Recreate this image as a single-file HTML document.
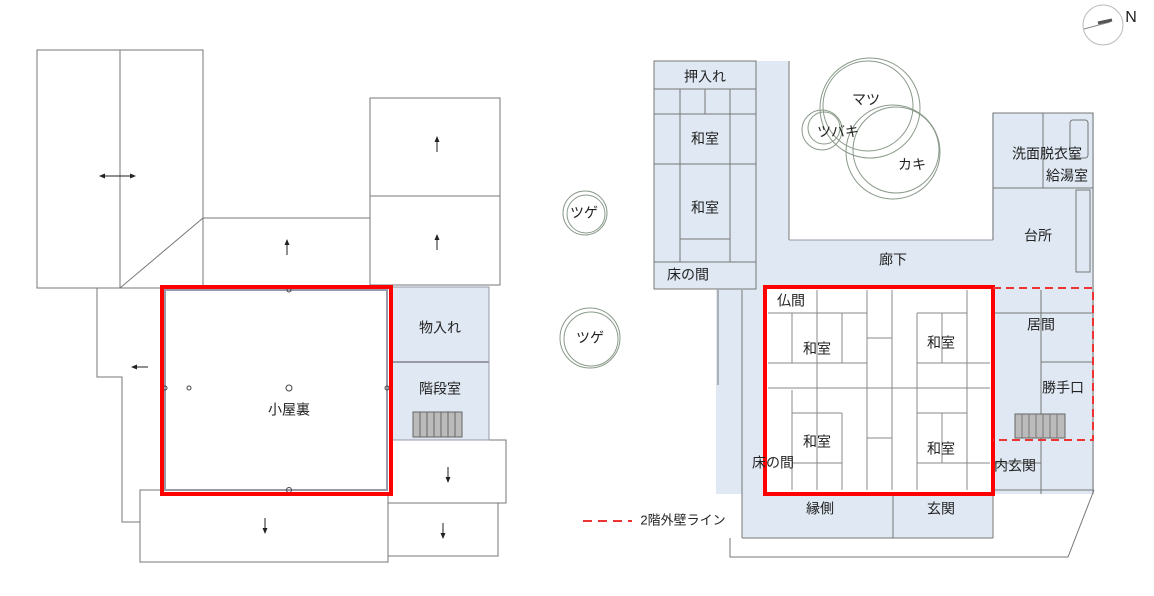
<!DOCTYPE html>
<html><head><meta charset="utf-8"><style>
html,body{margin:0;padding:0;background:#fff;}
svg{display:block;}
text{font-family:"Liberation Sans","Noto Sans CJK JP",sans-serif;font-size:14px;fill:#222;text-anchor:middle;dominant-baseline:middle;}
</style></head><body>
<svg width="1154" height="596" viewBox="0 0 1154 596" xmlns="http://www.w3.org/2000/svg">
<defs>
<marker id="ah" markerWidth="6" markerHeight="6" refX="5" refY="3" orient="auto"><path d="M0,0.5 L6,3 L0,5.5z" fill="#222"/></marker>
</defs>
<!-- LEFT PLAN -->
<g fill="none" stroke="#777" stroke-width="1">
<rect x="37" y="50" width="166" height="238"/>
<line x1="120" y1="50" x2="120" y2="288"/>
<polyline points="203,218 370,218"/>
<line x1="203" y1="218" x2="120" y2="288"/>
<line x1="120" y1="288" x2="162" y2="288"/>
<rect x="370" y="98" width="130" height="187"/>
<line x1="370" y1="196" x2="500" y2="196"/>
<polyline points="97,288 97,377 122,377 122,522 140,522"/>
<rect x="140" y="490" width="248" height="72"/>
<rect x="388" y="440" width="118" height="63"/>
<rect x="388" y="503" width="110" height="53"/>
</g>
<rect x="391" y="287" width="98" height="153" fill="#dfe8f3" stroke="#99a" stroke-width="1"/>
<line x1="391" y1="362" x2="489" y2="362" stroke="#99a" stroke-width="2"/>
<rect x="413" y="412" width="49" height="25" fill="#bbb" stroke="#666"/>
<g stroke="#666"><line x1="420" y1="412" x2="420" y2="437"/><line x1="427" y1="412" x2="427" y2="437"/><line x1="434" y1="412" x2="434" y2="437"/><line x1="441" y1="412" x2="441" y2="437"/><line x1="448" y1="412" x2="448" y2="437"/><line x1="455" y1="412" x2="455" y2="437"/></g>
<rect x="162" y="287" width="229" height="207" fill="#fff" stroke="none"/>
<rect x="165" y="290" width="222" height="200" fill="none" stroke="#99a" stroke-width="2"/>
<g stroke="#222" stroke-width="1">
<line x1="105" y1="176" x2="135" y2="176" marker-end="url(#ah)"/><line x1="130" y1="176" x2="100" y2="176" marker-end="url(#ah)"/>
<line x1="287" y1="255" x2="287" y2="240" marker-end="url(#ah)"/>
<line x1="437" y1="152" x2="437" y2="137" marker-end="url(#ah)"/>
<line x1="437" y1="250" x2="437" y2="235" marker-end="url(#ah)"/>
<line x1="148" y1="367" x2="132" y2="367" marker-end="url(#ah)"/>
<line x1="448" y1="467" x2="448" y2="482" marker-end="url(#ah)"/>
<line x1="265" y1="518" x2="265" y2="533" marker-end="url(#ah)"/>
<line x1="443" y1="523" x2="443" y2="538" marker-end="url(#ah)"/>
</g>
<g fill="none" stroke="#444"><circle cx="289" cy="388" r="3"/><circle cx="189" cy="388" r="2"/><circle cx="289" cy="290" r="2"/><circle cx="289" cy="490" r="2.5"/><circle cx="165" cy="388" r="2"/><circle cx="387" cy="388" r="2"/></g>
<rect x="162" y="287" width="229" height="207" fill="none" stroke="#f00" stroke-width="4"/>
<text x="289" y="411">小屋裏</text>
<text x="440" y="329" fill="#333">物入れ</text>
<text x="440" y="390" fill="#333">階段室</text>

<!-- RIGHT PLAN -->
<circle cx="1103" cy="25" r="20" fill="none" stroke="#bbb"/>
<line x1="1084" y1="29" x2="1110" y2="22" stroke="#888"/>
<line x1="1098" y1="23" x2="1112" y2="20" stroke="#555" stroke-width="3"/>
<text x="1131" y="18" style="font-size:16px" fill="#666">N</text>
<g fill="#dfe8f3">
<rect x="654" y="61" width="135" height="228"/>
<rect x="716" y="240" width="378" height="50"/>
<rect x="992" y="113" width="102" height="180"/>
<rect x="716" y="285" width="378" height="209"/>
<rect x="742" y="490" width="251" height="48"/>
</g>
<g fill="none" stroke="#777" stroke-width="1">
<rect x="654" y="61" width="102" height="228"/>
<line x1="654" y1="89" x2="756" y2="89"/><line x1="654" y1="262" x2="756" y2="262"/>
<line x1="680" y1="89" x2="680" y2="262"/><line x1="730" y1="89" x2="730" y2="262"/>
<line x1="705" y1="89" x2="705" y2="114"/><line x1="654" y1="114" x2="756" y2="114"/>
<line x1="654" y1="164" x2="756" y2="164"/><line x1="680" y1="239" x2="730" y2="239"/>
<line x1="789" y1="61" x2="789" y2="240"/>
<line x1="789" y1="240" x2="993" y2="240" stroke="#99a"/>
<line x1="993" y1="113" x2="993" y2="240"/>
<rect x="993" y="113" width="100" height="75"/>
<line x1="1043" y1="113" x2="1043" y2="188"/>
<rect x="1070" y="120" width="18" height="38" rx="3"/>
<rect x="1076" y="190" width="14" height="82"/>
<line x1="1093" y1="188" x2="1093" y2="494"/>
<line x1="742" y1="290" x2="742" y2="538"/>
<line x1="718" y1="290" x2="718" y2="385"/>
<line x1="742" y1="538" x2="993" y2="538"/>
<line x1="993" y1="494" x2="993" y2="538"/>
<line x1="893" y1="494" x2="893" y2="538"/>
<polyline points="730,538 730,557 1068,557 1094,490"/>
<line x1="993" y1="313" x2="1093" y2="313"/><line x1="1041" y1="290" x2="1041" y2="440"/><line x1="1041" y1="362" x2="1093" y2="362"/>
<line x1="993" y1="463" x2="1041" y2="463"/><line x1="1041" y1="440" x2="1041" y2="494"/>
<line x1="993" y1="490" x2="1093" y2="490"/>
</g>
<rect x="1015" y="414" width="50" height="24" fill="#bbb" stroke="#666"/>
<g stroke="#777"><line x1="1022" y1="414" x2="1022" y2="438"/><line x1="1029" y1="414" x2="1029" y2="438"/><line x1="1036" y1="414" x2="1036" y2="438"/><line x1="1043" y1="414" x2="1043" y2="438"/><line x1="1050" y1="414" x2="1050" y2="438"/><line x1="1057" y1="414" x2="1057" y2="438"/></g>
<!-- tatami -->
<rect x="765" y="287" width="228" height="207" fill="#fff"/>
<g stroke="#888" stroke-width="1" fill="none">
<line x1="792" y1="313" x2="792" y2="363"/><line x1="792" y1="390" x2="792" y2="490"/>
<line x1="817" y1="290" x2="817" y2="490"/>
<line x1="842" y1="313" x2="842" y2="363"/><line x1="842" y1="413" x2="842" y2="490"/>
<line x1="867" y1="290" x2="867" y2="490"/><line x1="892" y1="290" x2="892" y2="490"/>
<line x1="917" y1="313" x2="917" y2="490"/><line x1="942" y1="313" x2="942" y2="363"/><line x1="942" y1="413" x2="942" y2="463"/>
<line x1="967" y1="290" x2="967" y2="490"/>
<line x1="768" y1="313" x2="867" y2="313"/><line x1="917" y1="313" x2="967" y2="313"/>
<line x1="768" y1="363" x2="867" y2="363"/><line x1="917" y1="363" x2="990" y2="363"/>
<line x1="768" y1="388" x2="990" y2="388"/>
<line x1="792" y1="413" x2="842" y2="413"/><line x1="917" y1="413" x2="967" y2="413"/>
<line x1="792" y1="463" x2="842" y2="463"/><line x1="917" y1="463" x2="990" y2="463"/>
<line x1="867" y1="338" x2="892" y2="338"/><line x1="867" y1="438" x2="892" y2="438"/>
</g>
<rect x="765" y="287" width="228" height="207" fill="none" stroke="#f00" stroke-width="4"/>
<polyline points="993,288 1093,288 1093,440 993,440" fill="none" stroke="#e33" stroke-width="2" stroke-dasharray="8,5"/>
<!-- trees -->
<g fill="none" stroke="#8a9a8a">
<circle cx="870" cy="108" r="50"/><circle cx="868" cy="106" r="45"/>
<circle cx="893" cy="152" r="47"/><circle cx="896" cy="150" r="43"/>
<circle cx="822" cy="130" r="20"/><circle cx="824" cy="128" r="16"/>
<circle cx="585" cy="213" r="22"/><circle cx="586" cy="214" r="19"/>
<circle cx="590" cy="338" r="30"/><circle cx="591" cy="339" r="27"/>
</g>
<line x1="583" y1="521" x2="632" y2="521" stroke="#e33" stroke-width="2" stroke-dasharray="9,6"/>
<text x="683" y="521" style="font-size:13px">2階外壁ライン</text>
<g fill="#333">
<text x="705" y="78">押入れ</text><text x="705" y="140">和室</text><text x="705" y="209">和室</text><text x="688" y="276">床の間</text>
<text x="866" y="101">マツ</text><text x="838" y="133">ツバキ</text><text x="912" y="166">カキ</text>
<text x="1047" y="155">洗面脱衣室</text><text x="1067" y="177">給湯室</text><text x="1038" y="237">台所</text><text x="893" y="261">廊下</text>
<text x="791" y="302">仏間</text><text x="817" y="350">和室</text><text x="941" y="344">和室</text><text x="1041" y="326">居間</text><text x="1063" y="389">勝手口</text>
<text x="817" y="443">和室</text><text x="941" y="450">和室</text><text x="773" y="464">床の間</text><text x="1015" y="467">内玄関</text>
<text x="820" y="510">縁側</text><text x="941" y="510">玄関</text>
<text x="584" y="214">ツゲ</text><text x="590" y="339">ツゲ</text>
</g>
</svg>
</body></html>
